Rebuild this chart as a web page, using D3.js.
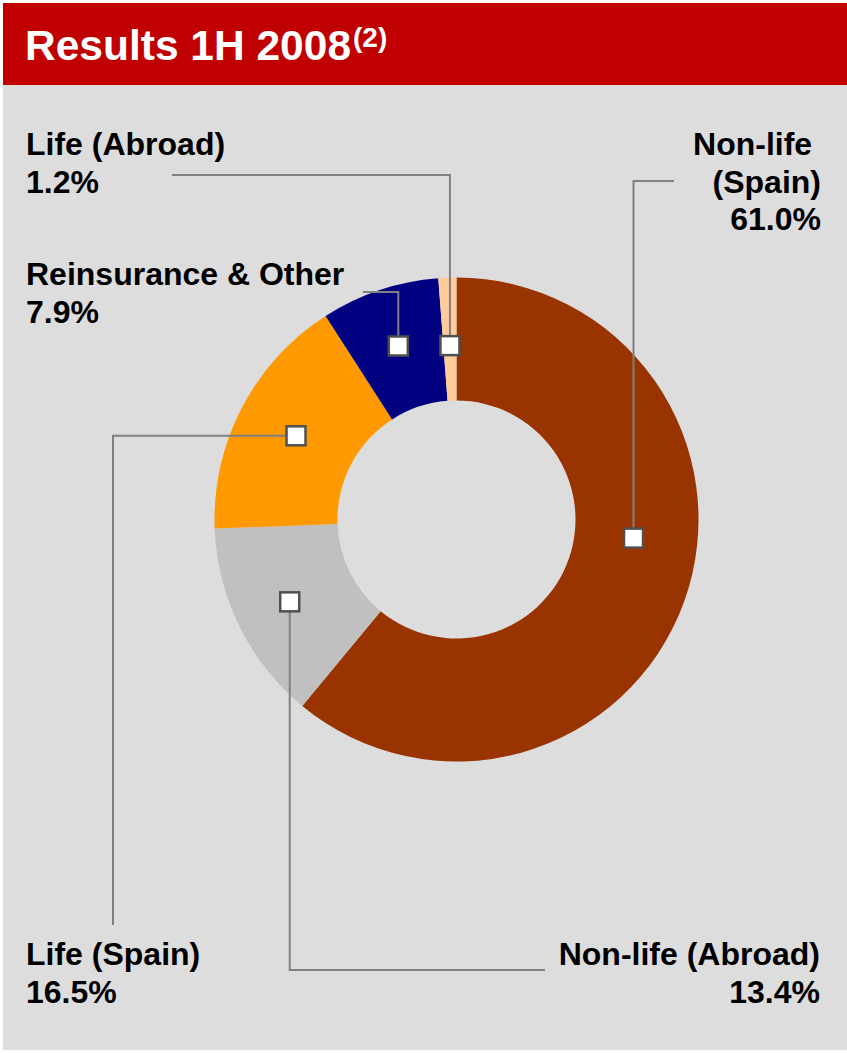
<!DOCTYPE html>
<html lang="en">
  <head>
    <meta charset="UTF-8" />
    <title>Results 1H 2008</title>
    <style>
      html, body { margin: 0; padding: 0; background: #fff; }
      text { font-family: "Liberation Sans", Arial, sans-serif; font-weight: bold; }
    </style>
  </head>
  <body>
    <div class="chart"></div>

    <script src="https://d3js.org/d3.v7.min.js"></script>
    <script>
      // data =================================================================
      const categories = ["Non-life (Spain)", "Non-life (Abroad)", "Life (Spain)", "Reinsurance & Other", "Life (Abroad)"];
      const shares = [61.0, 13.4, 16.5, 7.9, 1.2];
      const labelLines = [["Non-life ", "(Spain)", "61.0%"], ["Non-life (Abroad)", "13.4%"], ["Life (Spain)", "16.5%"], ["Reinsurance & Other", "7.9%"], ["Life (Abroad)", "1.2%"]];
      const colors = ["#993300", "#C0C0C0", "#FF9900", "#000080", "#FFCC99"];

      const W = 847, H = 1053;
      const svg = d3.select(".chart").append("svg").attr("width", W).attr("height", H);

      // panel + header
      svg.append("rect").attr("x", 3).attr("y", 85).attr("width", W - 3).attr("height", 965).attr("fill", "#DDDDDD");
      svg.append("rect").attr("x", 3).attr("y", 3).attr("width", W - 3).attr("height", 82).attr("fill", "#C00000");
      const title = svg.append("text").attr("x", 25).attr("y", 60).attr("fill", "#fff").attr("font-size", 42.5);
      title.append("tspan").text("Results 1H 2008");
      title.append("tspan").attr("font-size", 28).attr("dx", 2).attr("dy", -13).text("(2)");

      // donut
      const cx = 456.5, cy = 519.5, rOut = 242, rIn = 119;
      const pie = d3.pie().sort(null).value((d) => d)(shares);
      const arc = d3.arc().innerRadius(rIn).outerRadius(rOut);
      const g = svg.append("g").attr("transform", `translate(${cx},${cy})`);

      g.selectAll("path")
        .data(pie)
        .enter()
        .append("path")
        .attr("d", arc)
        .attr("fill", (d, i) => colors[i]);

      // label layout: where each label sits and how its leader line bends
      const labelPos = [
        { x: 821, y: 155, anchor: "end", elbow: "v", end: [674, 181], da: -13.8, r: 178 },
        { x: 820, y: 965, anchor: "end", elbow: "v", end: [545, 970], da: 0, r: 186 },
        { x: 26, y: 965, anchor: "start", elbow: "h", end: [113, 925], da: 0, r: 181 },
        { x: 26, y: 285, anchor: "start", elbow: "v", end: [363, 292], da: 0, r: 183 },
        { x: 26, y: 155, anchor: "start", elbow: "v", end: [172, 175], da: 0, r: 174 }
      ];

      const markers = pie.map((d, i) => {
        const p = labelPos[i];
        const a = (d.startAngle + d.endAngle) / 2 + (p.da * Math.PI) / 180;
        return [cx + Math.sin(a) * p.r, cy - Math.cos(a) * p.r];
      });

      // leader lines
      svg.selectAll(".leader")
        .data(markers)
        .enter()
        .append("polyline")
        .attr("class", "leader")
        .attr("fill", "none")
        .attr("stroke", "#808080")
        .attr("stroke-width", 2)
        .attr("points", (m, i) => {
          const p = labelPos[i];
          const mid = p.elbow === "v" ? [m[0], p.end[1]] : [p.end[0], m[1]];
          return [m, mid, p.end].map((q) => q.join(",")).join(" ");
        });

      // marker squares
      svg.selectAll(".marker")
        .data(markers)
        .enter()
        .append("rect")
        .attr("class", "marker")
        .attr("x", (m) => m[0] - 9.5)
        .attr("y", (m) => m[1] - 9.5)
        .attr("width", 19)
        .attr("height", 19)
        .attr("fill", "#fff")
        .attr("stroke", "#505050")
        .attr("stroke-width", 2.5);

      // labels
      labelLines.forEach((lines, i) => {
        const p = labelPos[i];
        const t = svg.append("text")
          .attr("x", p.x)
          .attr("y", p.y)
          .attr("text-anchor", p.anchor)
          .attr("font-size", 32)
          .attr("fill", "#000")
          .attr("xml:space", "preserve")
          .style("white-space", "pre");
        lines.forEach((s, j) => {
          t.append("tspan").attr("x", p.x).attr("dy", j === 0 ? 0 : 37.5).text(s);
        });
      });
    </script>
  </body>
</html>
